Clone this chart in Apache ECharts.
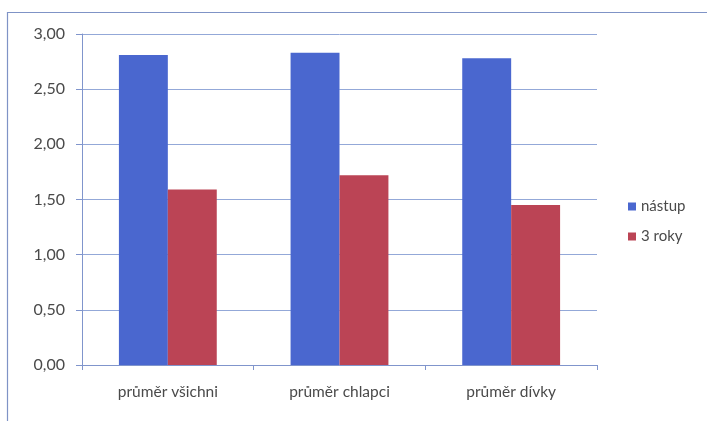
<!DOCTYPE html>
<html>
<head>
<meta charset="utf-8">
<script src="https://cdn.jsdelivr.net/npm/echarts@6/dist/echarts.min.js"></script>
<style>
  html, body { margin: 0; padding: 0; background: #fff; }
  #chart { width: 707px; height: 421px; }
</style>
</head>
<body>
<div id="chart"></div>
<script>
  // data
  var categories = ['průměr všichni', 'průměr chlapci', 'průměr dívky'];
  var nastup = [2.81, 2.83, 2.78];
  var triRoky = [1.59, 1.72, 1.45];
  var seriesNames = ['nástup', '3 roky'];
  var yTicks = ['0,00', '0,50', '1,00', '1,50', '2,00', '2,50', '3,00'];

  var axisColor = '#8095cc';
  var textColor = '#4a4a4a';
  var font = 'Lato, "Open Sans", sans-serif';

  var chart = echarts.init(document.getElementById('chart'));
  chart.setOption({
    animation: false,
    textStyle: { fontFamily: font },
    graphic: [{
      type: 'rect',
      shape: { x: 7.5, y: 12.5, width: 720, height: 430 },
      style: { fill: 'none', stroke: '#7f93c6', lineWidth: 1.2 }
    }],
    legend: {
      orient: 'vertical',
      left: 623,
      top: 194,
      itemWidth: 8,
      itemHeight: 8,
      itemGap: 15,
      icon: 'rect',
      data: seriesNames,
      textStyle: { color: textColor, fontSize: 15, fontFamily: font }
    },
    grid: { left: 82, right: 110, top: 34, bottom: 56 },
    xAxis: {
      type: 'category',
      data: categories,
      axisLine: { lineStyle: { color: axisColor } },
      axisTick: { show: true, length: 5, lineStyle: { color: axisColor } },
      axisLabel: { color: textColor, fontSize: 15.5, margin: 19, fontFamily: font }
    },
    yAxis: {
      type: 'value',
      min: 0,
      max: 3,
      interval: 0.5,
      axisLine: { show: true, lineStyle: { color: axisColor } },
      axisTick: { show: true, length: 6, lineStyle: { color: axisColor } },
      splitLine: { lineStyle: { color: '#93a8d8' } },
      axisLabel: {
        color: textColor,
        fontSize: 16,
        margin: 17,
        fontFamily: font,
        formatter: function (v) { return yTicks[Math.round(v / 0.5)]; }
      }
    },
    series: [
      {
        name: seriesNames[0],
        type: 'bar',
        data: nastup,
        barGap: '0%',
        barCategoryGap: '43%',
        itemStyle: { color: '#4a67cf' }
      },
      {
        name: seriesNames[1],
        type: 'bar',
        data: triRoky,
        itemStyle: { color: '#bb4455' }
      }
    ]
  });
</script>
</body>
</html>
